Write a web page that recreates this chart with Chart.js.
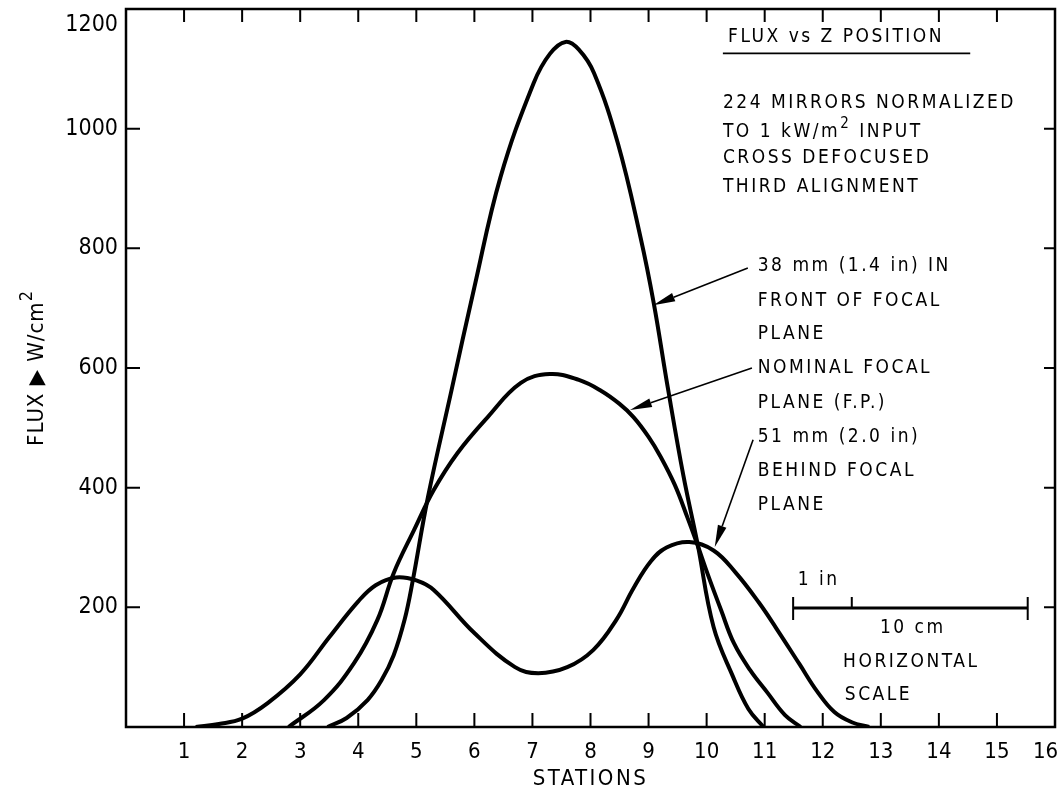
<!DOCTYPE html>
<html>
<head>
<meta charset="utf-8">
<script src="https://cdn.jsdelivr.net/npm/chart.js@4.4.1/dist/chart.umd.min.js"></script>
<style>
  html, body { margin: 0; padding: 0; background: #fff; }
  #wrap { width: 1059px; height: 793px; }
</style>
</head>
<body>
<div id="wrap"><canvas id="fluxChart" width="1059" height="793"></canvas></div>
<script>
// ---------------------------------------------------------------------------
// Data: station number vs flux, W/cm2
// ---------------------------------------------------------------------------
const frontStation = [3.47, 3.8, 4.16, 4.4, 4.61, 4.8, 4.93, 5.2, 5.6, 6.0, 6.45, 7.02, 7.3, 7.57, 7.8, 8.06, 8.47, 8.86, 9.09, 9.33, 9.6, 9.84, 10.12, 10.45, 10.72, 10.98];
const frontFlux    = [0, 15, 45, 78, 120, 180, 240, 384, 560, 735, 919, 1076, 1125, 1145, 1132, 1093, 976, 819, 708, 568, 420, 308, 167, 85, 30, 0];

const nominalStation = [2.8, 3.41, 3.93, 4.33, 4.61, 4.96, 5.3, 5.71, 6.23, 6.8, 7.3, 7.8, 8.18, 8.5, 8.74, 9.0, 9.2, 9.45, 9.67, 9.84, 10.02, 10.25, 10.47, 10.75, 11.05, 11.35, 11.62];
const nominalFlux    = [0, 45, 107, 179, 257, 329, 396, 458, 518, 575, 590, 580, 562, 540, 518, 485, 453, 405, 350, 305, 255, 195, 140, 95, 57, 20, 0];

const behindStation = [1.2, 1.6, 2.0, 2.44, 3.0, 3.5, 4.0, 4.3, 4.65, 5.0, 5.3, 6.0, 6.7, 7.1, 7.6, 8.05, 8.45, 8.74, 9.04, 9.31, 9.7, 10.12, 10.5, 10.9, 11.2, 11.6, 11.9, 12.2, 12.5, 12.8];
const behindFlux    = [0, 5, 14, 40, 88, 150, 210, 237, 250, 245, 229, 157, 100, 90, 100, 129, 180, 232, 277, 300, 309, 295, 258, 208, 165, 105, 60, 25, 8, 0];

const stationTicks = [1, 2, 3, 4, 5, 6, 7, 8, 9, 10, 11, 12, 13, 14, 15, 16];
const fluxTicks = [200, 400, 600, 800, 1000, 1200];

const FONT = "'Liberation Sans Narrow', 'DejaVu Sans Condensed', 'Liberation Sans', sans-serif";
const INK = "#000";

// annotation text, anchored in data units (station, flux); ^2 = superscript
const notes = [
  { x: 10.37, y: 1153, text: "FLUX vs Z POSITION" },
  { x: 10.28, y: 1043, text: "224 MIRRORS NORMALIZED" },
  { x: 10.28, y: 994,  text: "TO 1 kW/m^2 INPUT" },
  { x: 10.28, y: 951,  text: "CROSS DEFOCUSED" },
  { x: 10.28, y: 902,  text: "THIRD ALIGNMENT" },
  { x: 10.88, y: 770,  text: "38 mm (1.4 in) IN" },
  { x: 10.88, y: 712,  text: "FRONT OF FOCAL" },
  { x: 10.88, y: 657,  text: "PLANE" },
  { x: 10.88, y: 600,  text: "NOMINAL FOCAL" },
  { x: 10.88, y: 541,  text: "PLANE (F.P.)" },
  { x: 10.88, y: 485,  text: "51 mm (2.0 in)" },
  { x: 10.88, y: 428,  text: "BEHIND FOCAL" },
  { x: 10.88, y: 371,  text: "PLANE" },
  { x: 11.57, y: 246,  text: "1 in" },
  { x: 12.35, y: 109,  text: "HORIZONTAL" },
  { x: 12.38, y: 53,   text: "SCALE" },
];
const arrows = [
  { from: [10.71, 767], to: [9.08, 705] },
  { from: [10.78, 600], to: [8.68, 530] },
  { from: [10.80, 480], to: [10.14, 301] },
];

function toPoints(xs, ys) { return xs.map((x, i) => ({ x, y: ys[i] })); }

// draws text with ^N superscripts
function drawRich(ctx, text, x, y, size, align) {
  const parts = text.split(/\^(\d)/);
  let w = 0;
  const segs = parts.map((t, i) => {
    const sup = i % 2 === 1;
    ctx.font = `${sup ? Math.round(size * 0.8) : size}px ${FONT}`;
    const sw = ctx.measureText(t).width;
    const s = { t, sup, off: w };
    w += sw;
    return s;
  });
  const x0 = align === "center" ? x - w / 2 : x;
  ctx.textBaseline = "middle";
  ctx.textAlign = "left";
  for (const s of segs) {
    ctx.font = `${s.sup ? Math.round(size * 0.8) : size}px ${FONT}`;
    ctx.fillText(s.t, x0 + s.off, s.sup ? y - size * 0.45 : y);
  }
  return w;
}

// ---------------------------------------------------------------------------
// Frame with inward ticks on all four sides
// ---------------------------------------------------------------------------
const frameTicks = {
  id: "frameTicks",
  afterDatasetsDraw(chart) {
    const { ctx, chartArea: a, scales: { x, y } } = chart;
    ctx.save();
    ctx.strokeStyle = INK;
    ctx.lineWidth = 2.5;
    ctx.strokeRect(a.left, a.top, a.right - a.left, a.bottom - a.top);
    ctx.lineWidth = 2;
    ctx.beginPath();
    for (const s of stationTicks) {
      const px = x.getPixelForValue(s);
      ctx.moveTo(px, a.bottom); ctx.lineTo(px, a.bottom - 14);
      ctx.moveTo(px, a.top); ctx.lineTo(px, a.top + 13);
    }
    for (const f of fluxTicks) {
      const py = y.getPixelForValue(f);
      ctx.moveTo(a.left, py); ctx.lineTo(a.left + 14, py);
      ctx.moveTo(a.right, py); ctx.lineTo(a.right - 11, py);
    }
    ctx.stroke();
    ctx.restore();
  }
};

// ---------------------------------------------------------------------------
// Titles, notes, leader arrows and the horizontal scale bar
// ---------------------------------------------------------------------------
const annotations = {
  id: "annotations",
  afterDraw(chart) {
    const { ctx, chartArea: a, scales: { x, y } } = chart;
    ctx.save();
    ctx.fillStyle = INK;
    ctx.strokeStyle = INK;
    ctx.letterSpacing = "2.5px";

    for (const n of notes) drawRich(ctx, n.text, x.getPixelForValue(n.x), y.getPixelForValue(n.y), 19, "left");

    // underline of the heading
    ctx.lineWidth = 1.8;
    ctx.beginPath();
    ctx.moveTo(x.getPixelForValue(10.28), y.getPixelForValue(1126));
    ctx.lineTo(x.getPixelForValue(14.54), y.getPixelForValue(1126));
    ctx.stroke();

    // "10 cm" centred under the bar
    drawRich(ctx, "10 cm", x.getPixelForValue(13.55), y.getPixelForValue(165), 19, "center");

    // scale bar: 10 cm with 1 in mark
    const bx0 = x.getPixelForValue(11.49), bx1 = x.getPixelForValue(15.53), by = y.getPixelForValue(199);
    const bin = x.getPixelForValue(12.5);
    ctx.lineWidth = 3;
    ctx.beginPath();
    ctx.moveTo(bx0, by); ctx.lineTo(bx1, by);
    ctx.stroke();
    ctx.lineWidth = 2;
    ctx.beginPath();
    ctx.moveTo(bx0, by - 11); ctx.lineTo(bx0, by + 12);
    ctx.moveTo(bx1, by - 11); ctx.lineTo(bx1, by + 12);
    ctx.moveTo(bin, by - 11); ctx.lineTo(bin, by);
    ctx.stroke();

    // leader arrows
    for (const ar of arrows) {
      const x0 = x.getPixelForValue(ar.from[0]), y0 = y.getPixelForValue(ar.from[1]);
      const x1 = x.getPixelForValue(ar.to[0]), y1 = y.getPixelForValue(ar.to[1]);
      const ang = Math.atan2(y1 - y0, x1 - x0);
      const len = 22, half = 4.5;
      const bxh = x1 - len * Math.cos(ang), byh = y1 - len * Math.sin(ang);
      ctx.lineWidth = 1.6;
      ctx.beginPath();
      ctx.moveTo(x0, y0); ctx.lineTo(bxh, byh);
      ctx.stroke();
      ctx.beginPath();
      ctx.moveTo(x1, y1);
      ctx.lineTo(bxh + half * Math.sin(ang), byh - half * Math.cos(ang));
      ctx.lineTo(bxh - half * Math.sin(ang), byh + half * Math.cos(ang));
      ctx.closePath();
      ctx.fill();
    }

    // axis titles
    ctx.letterSpacing = "2.5px";
    drawRich(ctx, "STATIONS", (a.left + a.right) / 2, chart.height - 14, 22, "center");
    ctx.letterSpacing = "1px";
    ctx.save();
    ctx.translate(37, (a.top + a.bottom) / 2);
    ctx.rotate(-Math.PI / 2);
    drawRich(ctx, "FLUX \u25B6 W/cm^2", 0, 0, 22, "center");
    ctx.restore();

    ctx.restore();
  }
};

// ---------------------------------------------------------------------------
// Chart
// ---------------------------------------------------------------------------
const curveStyle = {
  borderColor: INK,
  borderWidth: 4,
  pointRadius: 0,
  fill: false,
  tension: 0.4,
};

new Chart(document.getElementById("fluxChart"), {
  type: "line",
  data: {
    datasets: [
      { label: "38 mm (1.4 in) in front of focal plane", data: toPoints(frontStation, frontFlux), ...curveStyle },
      { label: "Nominal focal plane (F.P.)", data: toPoints(nominalStation, nominalFlux), ...curveStyle },
      { label: "51 mm (2.0 in) behind focal plane", data: toPoints(behindStation, behindFlux), ...curveStyle },
    ]
  },
  options: {
    responsive: false,
    devicePixelRatio: 1,
    animation: false,
    layout: { padding: { top: 9, right: 4, left: 0, bottom: 0 } },
    plugins: { legend: { display: false }, tooltip: { enabled: false } },
    scales: {
      x: {
        type: "linear",
        min: 0,
        max: 16,
        afterFit: s => { s.height = 66; s.paddingLeft = 0; s.paddingRight = 0; },
        afterBuildTicks: s => { s.ticks = stationTicks.map(v => ({ value: v })); },
        grid: { display: false, drawTicks: false },
        border: { display: false },
        ticks: {
          color: INK,
          font: { family: FONT, size: 22 },
          padding: 12,
          maxRotation: 0,
          autoSkip: false,
          callback: v => (v === 16 ? "16   " : String(v)),
        },
      },
      y: {
        type: "linear",
        min: 0,
        max: 1200,
        afterFit: s => { s.width = 126; s.paddingTop = 0; s.paddingBottom = 0; },
        afterBuildTicks: s => { s.ticks = fluxTicks.map(v => ({ value: v })); },
        grid: { display: false, drawTicks: false },
        border: { display: false },
        ticks: {
          color: INK,
          font: { family: FONT, size: 23, lineHeight: 1.4 },
          padding: 8,
          callback: v => (v === 1200 ? ["", "1200"] : String(v)),
        },
      },
    },
  },
  plugins: [frameTicks, annotations],
});
</script>
</body>
</html>
